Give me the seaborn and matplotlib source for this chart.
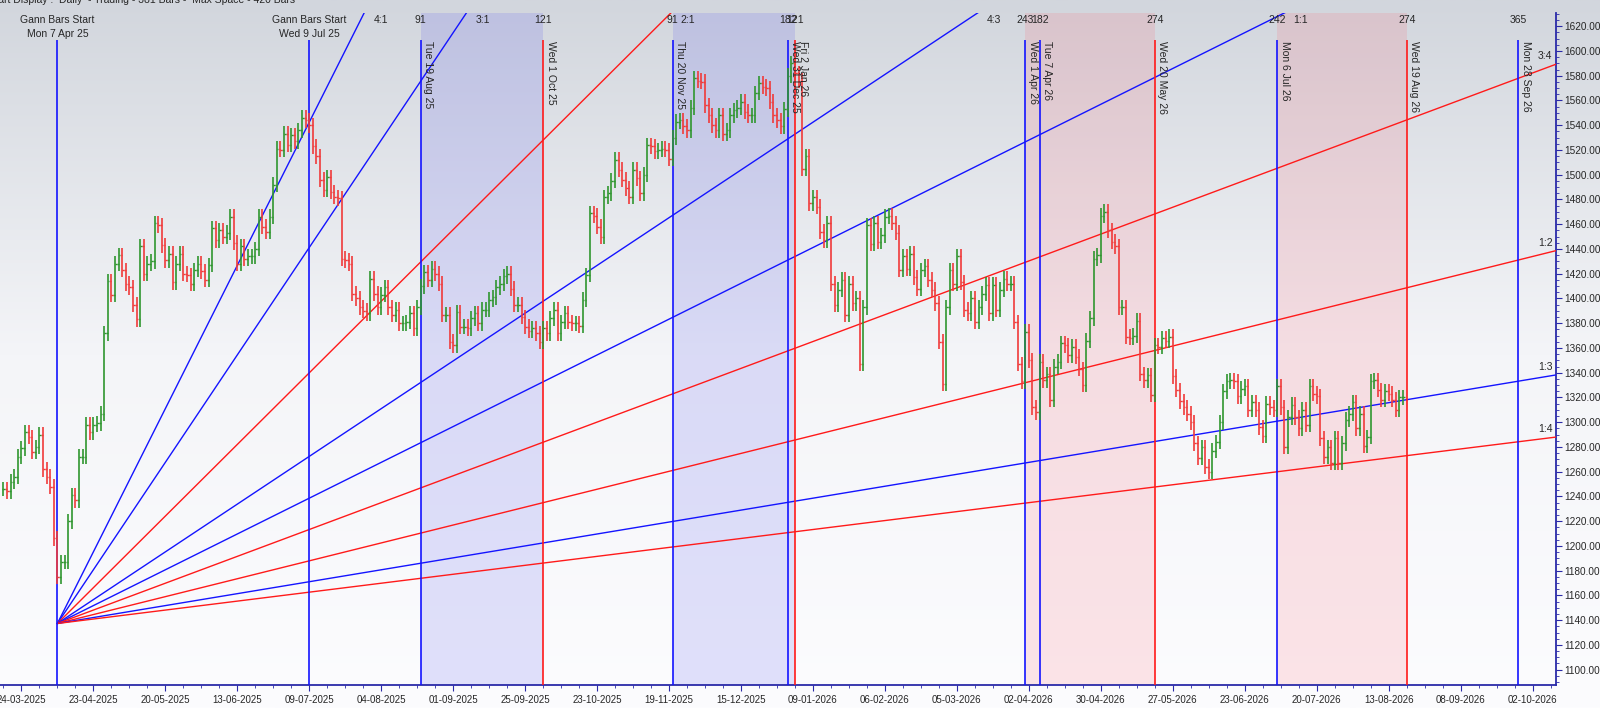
import numpy as np
import pandas as pd
import matplotlib
matplotlib.use("Agg")
import matplotlib.pyplot as plt
from matplotlib.colors import LinearSegmentedColormap
from matplotlib.ticker import MultipleLocator, FuncFormatter
import seaborn as sns

# daily closes, one chunk per stretch between the marked dates
close_mar_apr25 = [1246, 1244, 1252, 1256, 1272, 1279, 1292, 1288, 1276, 1280,
                   1290, 1262, 1256, 1248, 1206, 1175]
close_apr_jul25 = [1187, 1187, 1220, 1241, 1237, 1272, 1272, 1298, 1292, 1298,
                   1299, 1307, 1372, 1414, 1403, 1428, 1435, 1423, 1412, 1409,
                   1395, 1383, 1442, 1420, 1428, 1430, 1461, 1459, 1443, 1431,
                   1436, 1413, 1428, 1436, 1420, 1419, 1412, 1423, 1428, 1422,
                   1415, 1427, 1457, 1447, 1455, 1450, 1453, 1466, 1445, 1428,
                   1442, 1432, 1434, 1434, 1440, 1466, 1458, 1454, 1466, 1492,
                   1521, 1520, 1533, 1524, 1532, 1527, 1536, 1546, 1544]
close_jul_aug25 = [1540, 1523, 1515, 1496, 1488, 1498, 1486, 1482, 1481, 1432,
                   1431, 1428, 1404, 1400, 1393, 1390, 1388, 1416, 1404, 1393,
                   1403, 1409, 1393, 1387, 1391, 1380, 1380, 1381, 1388, 1376,
                   1393]
close_aug_oct25 = [1410, 1421, 1415, 1424, 1420, 1412, 1387, 1387, 1365, 1362,
                   1389, 1377, 1377, 1376, 1384, 1388, 1380, 1391, 1391, 1399,
                   1401, 1409, 1412, 1418, 1420, 1408, 1395, 1395, 1385, 1377,
                   1374, 1376, 1372, 1365]
close_oct_nov25 = [1376, 1372, 1384, 1391, 1372, 1381, 1388, 1381, 1380, 1380,
                   1378, 1399, 1419, 1469, 1467, 1458, 1450, 1482, 1485, 1495,
                   1512, 1504, 1496, 1489, 1482, 1504, 1497, 1485, 1500, 1524,
                   1523, 1519, 1520, 1521, 1520, 1513]
close_nov_dec25 = [1530, 1543, 1544, 1539, 1536, 1554, 1578, 1576, 1575, 1556,
                   1548, 1540, 1536, 1548, 1533, 1536, 1548, 1552, 1554, 1559,
                   1551, 1548, 1548, 1566, 1574, 1571, 1570, 1559, 1548, 1544,
                   1539, 1553, 1580, 1590]
close_jan_mar26 = [1582, 1576, 1505, 1515, 1477, 1482, 1474, 1454, 1447, 1461,
                   1412, 1395, 1407, 1415, 1387, 1412, 1396, 1400, 1347, 1393,
                   1459, 1444, 1461, 1446, 1451, 1466, 1467, 1461, 1453, 1423,
                   1434, 1424, 1436, 1417, 1408, 1423, 1426, 1415, 1407, 1396,
                   1365, 1331, 1393, 1423, 1412, 1434, 1413, 1391, 1388, 1400,
                   1381, 1393, 1404, 1411, 1388, 1411, 1391, 1407, 1416, 1412,
                   1412, 1381, 1347, 1333]
close_apr_may26 = [1373, 1350, 1312, 1308,
                   1349, 1334, 1339, 1318, 1345, 1349, 1364, 1362, 1354, 1361,
                   1353, 1343, 1330, 1366, 1384, 1432, 1435, 1467, 1470, 1455,
                   1446, 1442, 1393, 1393, 1369, 1368, 1370, 1382, 1339, 1334,
                   1338, 1322]
close_may_jul26 = [1362, 1361, 1368, 1366, 1369, 1337, 1326, 1317, 1312, 1307,
                   1300, 1283, 1271, 1280, 1264, 1260, 1277, 1284, 1300, 1325,
                   1333, 1334, 1333, 1321, 1327, 1329, 1310, 1316, 1310, 1296,
                   1289, 1315, 1312, 1310]
close_jul_aug26 = [1329, 1312, 1280, 1304, 1314, 1304, 1295, 1310, 1298, 1329,
                   1323, 1321, 1287, 1272, 1280, 1267, 1287, 1267, 1283, 1302,
                   1307, 1316, 1295, 1307, 1281, 1288, 1333, 1334, 1326, 1318,
                   1325, 1323, 1318, 1310, 1320, 1320]
first_bar = -5

date_labels = ["24-03-2025", "23-04-2025", "20-05-2025", "13-06-2025", "09-07-2025",
               "04-08-2025", "01-09-2025", "25-09-2025", "23-10-2025", "19-11-2025",
               "15-12-2025", "09-01-2026", "06-02-2026", "05-03-2026", "02-04-2026",
               "30-04-2026", "27-05-2026", "23-06-2026", "20-07-2026", "13-08-2026",
               "08-09-2026", "02-10-2026"]

# marked dates (bar number on the chart), their labels, bar counts and colours
event_bar = [10, 80, 111, 145, 181, 213, 215, 279, 283, 315, 349, 385, 416]
event_name = ["Mon 7 Apr 25", "Wed 9 Jul 25", "Tue 19 Aug 25", "Wed 1 Oct 25",
              "Thu 20 Nov 25", "Wed 31 Dec 25", "Fri 2 Jan 26", "Wed 1 Apr 26",
              "Tue 7 Apr 26", "Wed 20 May 26", "Mon 6 Jul 26", "Wed 19 Aug 26",
              "Mon 28 Sep 26"]
event_count = ["", "", "91", "121", "91", "182", "121", "243", "182", "274",
               "242", "274", "365"]
event_color = ["blue", "blue", "blue", "red", "blue", "blue", "red", "blue",
               "blue", "red", "blue", "red", "blue"]

band_start = [111, 181, 279, 349]
band_end = [145, 215, 315, 385]
band_kind = ["blue", "blue", "pink", "pink"]

# gann fan from Mon 7 Apr 25
fan_ratio = ["4:1", "3:1", "2:1", "4:3", "1:1", "3:4", "1:2", "1:3", "1:4"]
fan_mult = [4, 3, 2, 4 / 3, 1, 3 / 4, 1 / 2, 1 / 3, 1 / 4]
fan_color = ["blue", "blue", "red", "blue", "blue", "red", "red", "blue", "red"]
fan_start_bar = 10
fan_start_price = 1137.3
fan_unit = 1.447  # price per bar for 1:1

XMIN, XMAX = -5.95, 426.5
YMIN, YMAX = 1087.6, 1630.7
LINE_TOP = 1608.8
ROW1, ROW2 = 1625.3, 1614.0
AXIS_COL = "#2a2aa8"
GREEN, RED = "#2f962f", "#f03a3a"
LINE_COLS = {"blue": "#1414ff", "red": "#ff1a1a"}
BAND_COLS = {"blue": ("#5a5af0", 0.17), "pink": ("#ff5a6a", 0.15)}

sns.set_style("white")
plt.rcParams["font.family"] = ["Liberation Sans", "DejaVu Sans"]

closes = np.array(close_mar_apr25 + close_apr_jul25 + close_jul_aug25 + close_aug_oct25
                  + close_oct_nov25 + close_nov_dec25 + close_jan_mar26
                  + close_apr_may26 + close_may_jul26 + close_jul_aug26, dtype=float)
bars = np.arange(first_bar, first_bar + len(closes))
opens = np.concatenate([[closes[0]], closes[:-1]])
wick = 6
highs = np.maximum(opens, closes) + wick
lows = np.minimum(opens, closes) - wick
cols = np.where(closes >= opens, GREEN, RED)

fig = plt.figure(figsize=(16, 7.08), dpi=100)

bg = fig.add_axes([0, 0, 1, 1], zorder=-10)
bg_cmap = LinearSegmentedColormap.from_list("bg", ["#fcfcfe", "#f4f5f8", "#d2d6dd"])
bg.imshow(np.linspace(0, 1, 256).reshape(-1, 1), cmap=bg_cmap, aspect="auto",
          extent=[0, 1, 0, 1], origin="lower")
bg.axis("off")

ax = fig.add_axes([0, 23 / 708, 1556 / 1600, 672 / 708], zorder=1)
ax.patch.set_alpha(0)
ax.set_xlim(XMIN, XMAX)
ax.set_ylim(YMIN, YMAX)

for s, e, k in zip(band_start, band_end, band_kind):
    c, a = BAND_COLS[k]
    ax.axvspan(s, e, color=c, alpha=a, lw=0, zorder=1)

# fan lines
fan_rows = []
for r, m in zip(fan_ratio, fan_mult):
    for b in (fan_start_bar, XMAX + 5):
        fan_rows.append({"ratio": r, "bar": b,
                         "price": fan_start_price + (b - fan_start_bar) * fan_unit * m})
fan_df = pd.DataFrame(fan_rows)
sns.lineplot(data=fan_df, x="bar", y="price", hue="ratio",
             palette={r: LINE_COLS[c] for r, c in zip(fan_ratio, fan_color)},
             estimator=None, sort=False, legend=False, lw=1.0, ax=ax, zorder=3)

for r, m in zip(fan_ratio, fan_mult):
    end_val = fan_start_price + (XMAX - fan_start_bar) * fan_unit * m
    if end_val > YMAX:
        exit_bar = fan_start_bar + (YMAX - fan_start_price) / (fan_unit * m)
        ax.text(exit_bar + 2.6, ROW1, r, ha="left", va="center", fontsize=7.5, zorder=6)
    else:
        ax.text(XMAX - 1.0, end_val + 2.5, r, ha="right", va="bottom", fontsize=7.5, zorder=6)

# marked dates
for b, name, cnt, c in zip(event_bar, event_name, event_count, event_color):
    ax.vlines(b, YMIN, LINE_TOP, color=LINE_COLS[c], lw=1.2, zorder=3)
    if cnt == "":
        ax.text(b, ROW1, "Gann Bars Start", ha="center", va="center", fontsize=7.5, zorder=6)
        ax.text(b, ROW2, name, ha="center", va="center", fontsize=7.5, zorder=6)
    else:
        ax.text(b, ROW1, cnt, ha="center", va="center", fontsize=7.5, zorder=6)
        ax.text(b + 0.7, LINE_TOP - 1, name, rotation=270, ha="left", va="top",
                fontsize=7.5, zorder=6)

# ohlc bars
ax.vlines(bars, lows, highs, colors=cols, lw=1.2, zorder=4)
ax.hlines(opens, bars - 0.45, bars, colors=cols, lw=1.0, zorder=4)
ax.hlines(closes, bars, bars + 0.45, colors=cols, lw=1.0, zorder=4)

# axes
ax.set_xticks(np.arange(len(date_labels)) * 20)
ax.set_xticklabels(date_labels)
ax.xaxis.set_minor_locator(MultipleLocator(5))
ax.yaxis.tick_right()
ax.yaxis.set_major_locator(MultipleLocator(20))
ax.yaxis.set_minor_locator(MultipleLocator(5))
ax.yaxis.set_major_formatter(FuncFormatter(lambda v, p: f"{v:.2f}"))
ax.tick_params(axis="x", which="major", bottom=True, length=4, width=0.8,
               color=AXIS_COL, labelsize=7.0, pad=3)
ax.tick_params(axis="x", which="minor", bottom=True, length=2, width=0.6, color=AXIS_COL)
ax.tick_params(axis="y", which="major", right=True, left=False, length=4, width=0.8,
               color=AXIS_COL, labelsize=7.2, pad=2)
ax.tick_params(axis="y", which="minor", right=True, left=False, length=2, width=0.6,
               color=AXIS_COL)
ax.set_xlabel("")
ax.set_ylabel("")
for side in ("top", "left"):
    ax.spines[side].set_visible(False)
for side in ("bottom", "right"):
    ax.spines[side].set_color(AXIS_COL)
    ax.spines[side].set_linewidth(1.3)

fig.text(-15 / 1600, 1.0, "Chart Display :  Daily  - Trading - 381 Bars -  Max Space - 420 Bars",
         ha="left", va="center", fontsize=7.5)

fig.savefig("out.png", dpi=100)
